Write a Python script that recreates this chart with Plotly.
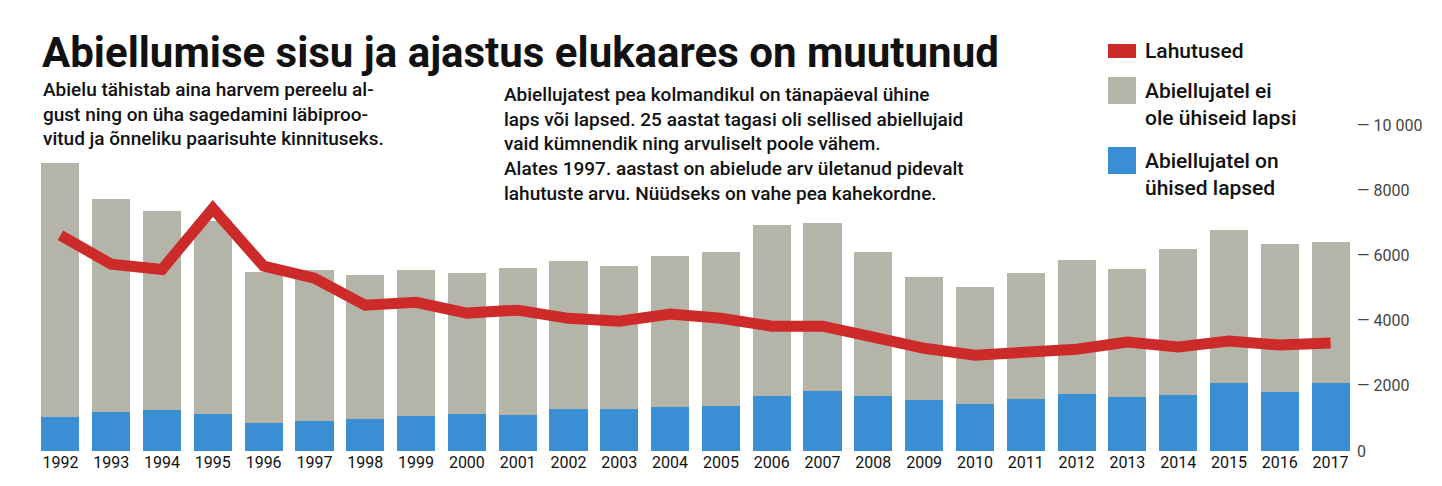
import plotly.graph_objects as go

years = [str(y) for y in range(1992, 2018)]
total = [8820, 7720, 7350, 7050, 5480, 5540, 5390, 5540, 5450, 5600, 5820, 5670, 5970, 6100,
         6920, 6980, 6100, 5330, 5020, 5450, 5850, 5570, 6190, 6770, 6340, 6400]
with_children = [1040, 1190, 1260, 1130, 860, 920, 980, 1070, 1130, 1100, 1290, 1290, 1350, 1380,
                 1680, 1840, 1680, 1560, 1440, 1590, 1750, 1650, 1720, 2080, 1810, 2080]
divorces = [6620, 5730, 5570, 7440, 5670, 5300, 4470, 4560, 4230, 4320, 4070, 3980, 4200, 4070,
            3830, 3830, 3490, 3150, 2940, 3060, 3120, 3340, 3190, 3370, 3250, 3310]
no_children = [t - c for t, c in zip(total, with_children)]
tickvals = [0, 2000, 4000, 6000, 8000, 10000]
ticktext = ["0", "— 2000", "— 4000", "— 6000", "— 8000", "— 10 000"]

GREY, BLUE, RED = "#b5b4a8", "#3a8fd4", "#cd2a2a"
W, H = 1442, 486
L, R, T, B = 27, 94, 117, 43

def px(x): return (x - L) / (W - L - R)
def py(y): return (H - B - y) / (H - B - T)

fig = go.Figure()
fig.add_bar(x=years, y=with_children, marker_color=BLUE, marker_line_width=0)
fig.add_bar(x=years, y=no_children, marker_color=GREY, marker_line_width=0)
fig.add_scatter(x=years, y=divorces, mode="lines", line=dict(color=RED, width=11))

font = "Roboto, Open Sans, sans-serif"
anns = [
    dict(text="<b>Abiellumise sisu ja ajastus elukaares on muutunud</b>", x=px(32), y=py(45),
         font=dict(size=42, color="#111", weight=900)),
    dict(text="Abielu tähistab aina harvem pereelu al-<br>gust ning on üha sagedamini läbiproo-<br>vitud ja õnneliku paarisuhte kinnituseks.",
         x=px(33), y=py(106), font=dict(size=19, color="#111", weight=500)),
    dict(text="Abiellujatest pea kolmandikul on tänapäeval ühine<br>laps või lapsed. 25 aastat tagasi oli sellised abiellujaid<br>vaid kümnendik ning arvuliselt poole vähem.<br>Alates 1997. aastast on abielude arv ületanud pidevalt<br>lahutuste arvu. Nüüdseks on vahe pea kahekordne.",
         x=px(494), y=py(136), font=dict(size=19, color="#111", weight=500)),
    dict(text="Lahutused", x=px(1135), y=py(43), font=dict(size=21, color="#111", weight=500)),
    dict(text="Abiellujatel ei<br>ole ühiseid lapsi", x=px(1135), y=py(97), font=dict(size=21, color="#111", weight=500)),
    dict(text="Abiellujatel on<br>ühised lapsed", x=px(1135), y=py(166), font=dict(size=21, color="#111", weight=500)),
]
for a in anns:
    a.update(xref="paper", yref="paper", xanchor="left", yanchor="middle", showarrow=False,
             align="left")
    a["font"]["family"] = font

shapes = [
    dict(type="rect", x0=px(1100), x1=px(1128), y0=py(36), y1=py(50), fillcolor=RED),
    dict(type="rect", x0=px(1100), x1=px(1128), y0=py(69), y1=py(96), fillcolor=GREY),
    dict(type="rect", x0=px(1100), x1=px(1128), y0=py(139), y1=py(166), fillcolor=BLUE),
]
for s in shapes:
    s.update(xref="paper", yref="paper", line_width=0)

fig.update_layout(
    width=W, height=H, margin=dict(l=L, r=R, t=T, b=B, autoexpand=False),
    barmode="stack", bargap=0.25, showlegend=False,
    plot_bgcolor="white", paper_bgcolor="white",
    font=dict(family=font, size=15, color="#111"),
    annotations=anns, shapes=shapes,
    xaxis=dict(range=[-0.5, 25.5], showgrid=False, showline=False, ticks="", automargin=False,
               tickfont=dict(size=16)),
    yaxis=dict(range=[0, 10000], side="right", tickvals=tickvals, ticktext=ticktext, automargin=False,
               showgrid=False, zeroline=False, ticks="", tickfont=dict(size=16, color="#444")),
)
fig.write_html("out.html")
